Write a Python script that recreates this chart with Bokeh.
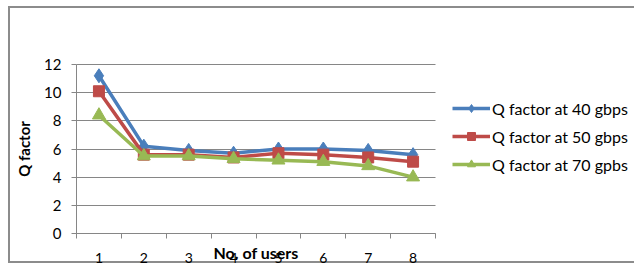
from bokeh.plotting import figure
from bokeh.models import (Range1d, FixedTicker, Legend, LegendItem, Grid, Label)
from bokeh.embed import file_html
from bokeh.resources import INLINE
import math

users = [1, 2, 3, 4, 5, 6, 7, 8]
q40 = [11.2, 6.2, 5.9, 5.7, 6.0, 6.0, 5.9, 5.6]
q50 = [10.1, 5.6, 5.6, 5.4, 5.7, 5.6, 5.4, 5.1]
q70 = [8.4, 5.5, 5.5, 5.3, 5.2, 5.1, 4.8, 4.0]
names = ["Q factor at 40 gbps", "Q factor at 50 gbps", "Q factor at 70 gpbs"]
y_ticks = [0, 2, 4, 6, 8, 10, 12]
x_title = "No. of users"
y_title = "Q factor"

FONT = "Lato"
GRAY = "#868686"
BORDER = "#8c8c8c"

# canvas layout (px): plotting area spans x 76..435, y 64..233
W, H = 634, 264
PL, PR, PT, PB = 76, 435, 64, 233
x_lo, x_hi = 0.5, 8.5
y_lo, y_hi = 0, 12
kx = (x_hi - x_lo) / (PR - PL)
ky = (y_hi - y_lo) / (PB - PT)
x_range = Range1d(x_lo - PL * kx, x_hi + (W - PR) * kx)
y_range = Range1d(y_lo - (H - PB) * ky, y_hi + PT * ky)

p = figure(width=W, height=H, output_backend="svg", toolbar_location=None,
           x_range=x_range, y_range=y_range, min_border=0,
           min_border_left=0, min_border_top=0, min_border_right=0,
           min_border_bottom=0)
p.outline_line_color = None
p.background_fill_color = "white"
p.background_fill_alpha = 0
p.border_fill_alpha = 0
g = "linear-gradient(%s,%s)" % (BORDER, BORDER)
p.styles = {
    "background": (g + " 8px 6px / 2px 257px no-repeat, "
                   + g + " 8px 6px / 700px 2px no-repeat, "
                   + g + " 8px 261px / 700px 2px no-repeat, white"),
}

# x axis
xa = p.xaxis[0]
xa.fixed_location = y_lo
xa.bounds = (x_lo, x_hi)
xa.ticker = FixedTicker(ticks=users, minor_ticks=[u - 0.5 for u in users] + [x_hi])
xa.major_tick_out = 0
xa.major_tick_in = 0
xa.minor_tick_out = 5
xa.minor_tick_in = 0
xa.minor_tick_line_color = GRAY
xa.axis_line_color = GRAY
xa.major_label_standoff = 14
xa.major_label_text_font = FONT
xa.major_label_text_font_size = "14px"
xa.major_label_text_color = "#000000"

# y axis
ya = p.yaxis[0]
ya.fixed_location = x_lo
ya.bounds = (y_lo, y_hi)
ya.ticker = FixedTicker(ticks=y_ticks)
ya.major_tick_out = 5
ya.major_tick_in = 0
ya.minor_tick_line_color = None
ya.major_tick_line_color = GRAY
ya.axis_line_color = GRAY
ya.major_label_standoff = 10
ya.major_label_text_font = FONT
ya.major_label_text_font_size = "15px"
ya.major_label_text_color = "#000000"

p.xgrid.grid_line_color = None
yg = p.ygrid[0]
yg.ticker = FixedTicker(ticks=y_ticks)
yg.grid_line_color = GRAY
yg.grid_line_width = 1
yg.bounds = (y_lo, y_hi)
if "cross_bounds" in Grid.properties():
    yg.cross_bounds = (x_lo, x_hi)

# axis titles
p.add_layout(Label(x=(x_lo + x_hi) / 2, y=y_lo, y_offset=-19, text=x_title,
                   text_align="center", text_baseline="middle", text_font=FONT,
                   text_font_size="16px", text_font_style="bold",
                   text_color="#000000"))
p.add_layout(Label(x=x_lo, y=(y_lo + y_hi) / 2, x_offset=-53, text=y_title,
                   angle=math.pi / 2, text_align="center", text_baseline="middle",
                   text_font=FONT, text_font_size="15px", text_font_style="bold",
                   text_color="#000000"))

colors = ["#4A7EBB", "#BE4B48", "#98B954"]
series = [q40, q50, q70]
items = []
for vals, c, name, k in zip(series, colors, names, range(3)):
    ln = p.line(users, vals, line_color=c, line_width=3.5)
    if k == 0:
        mk = p.scatter(users, vals, marker="diamond", size=14, fill_color=c, line_color=c)
    elif k == 1:
        mk = p.scatter(users, vals, marker="square", size=11, fill_color=c, line_color=c)
    else:
        mk = p.scatter(users, vals, marker="triangle", size=13, fill_color=c, line_color=c)
    items.append(LegendItem(label=name, renderers=[ln, mk]))

legend = Legend(items=items, location=(452, 90), padding=0, margin=0,
                border_line_color=None, background_fill_alpha=0,
                glyph_width=38, glyph_height=20, label_height=20, spacing=8,
                label_standoff=2, label_text_font=FONT, label_text_font_size="16px",
                label_text_color="#000000")
p.add_layout(legend)

open("out.html", "w").write(file_html(p, INLINE))
